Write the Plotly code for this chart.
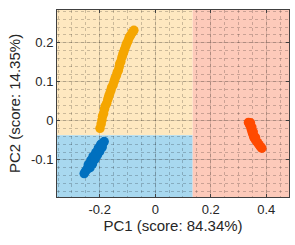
import plotly.graph_objects as go

# Data
orange_x = [-0.199, -0.195, -0.192, -0.190, -0.186, -0.183, -0.180, -0.175, -0.171, -0.168,
            -0.164, -0.160, -0.157, -0.152, -0.148, -0.145, -0.140, -0.137, -0.133, -0.130,
            -0.128, -0.124, -0.120, -0.117, -0.114, -0.110, -0.106, -0.103, -0.098, -0.094,
            -0.089, -0.083, -0.077]
orange_y = [-0.019, -0.008, 0.002, 0.012, 0.019, 0.030, 0.038, 0.045, 0.055, 0.062,
            0.070, 0.078, 0.086, 0.092, 0.101, 0.108, 0.116, 0.124, 0.129, 0.138,
            0.146, 0.152, 0.163, 0.170, 0.176, 0.184, 0.192, 0.198, 0.205, 0.213,
            0.219, 0.226, 0.232]

blue_x = [-0.184, -0.189, -0.194, -0.198, -0.203, -0.206, -0.211, -0.215, -0.219, -0.224,
          -0.228, -0.233, -0.237, -0.242, -0.246, -0.251, -0.256, -0.196, -0.205, -0.214,
          -0.224, -0.232, -0.241, -0.235, -0.226, -0.217, -0.208, -0.200, -0.191]
blue_y = [-0.053, -0.057, -0.061, -0.066, -0.071, -0.076, -0.081, -0.086, -0.092, -0.097,
          -0.102, -0.108, -0.113, -0.119, -0.124, -0.129, -0.135, -0.060, -0.070, -0.081,
          -0.091, -0.101, -0.112, -0.120, -0.110, -0.098, -0.087, -0.078, -0.067]

red_x = [0.336, 0.340, 0.343, 0.346, 0.349, 0.352, 0.355, 0.359, 0.364, 0.369,
         0.374, 0.379, 0.384, 0.343, 0.348, 0.353, 0.361]
red_y = [-0.004, -0.009, -0.014, -0.021, -0.028, -0.034, -0.041, -0.046, -0.051, -0.056,
         -0.061, -0.066, -0.070, -0.005, -0.016, -0.028, -0.042]

# Decision regions
x_range = [-0.354, 0.482]
y_range = [-0.195, 0.284]
x_split = 0.135
y_split = -0.037

x_ticks = [-0.2, 0, 0.2, 0.4]
x_tick_text = ["-0.2", "0", "0.2", "0.4"]
y_ticks = [-0.1, 0, 0.1, 0.2]
y_tick_text = ["-0.1", "0", "0.1", "0.2"]

x_title = "PC1 (score: 84.34%)"
y_title = "PC2 (score: 14.35%)"

fig = go.Figure()

regions = [
    (x_range[0], x_split, y_split, y_range[1], "#FEE8C0"),
    (x_range[0], x_split, y_range[0], y_split, "#A8D8EF"),
    (x_split, x_range[1], y_range[0], y_range[1], "#FDCABA"),
]
for x0, x1, y0, y1, c in regions:
    fig.add_shape(type="rect", x0=x0, x1=x1, y0=y0, y1=y1, xref="x", yref="y",
                  fillcolor=c, line=dict(width=0), layer="below")

for xs, ys, col in [(orange_x, orange_y, "#F5A600"),
                    (blue_x, blue_y, "#0070BF"),
                    (red_x, red_y, "#FF4A00")]:
    fig.add_trace(go.Scatter(x=xs, y=ys, mode="markers",
                             marker=dict(size=9.5, color=col, line=dict(width=0)),
                             showlegend=False, hoverinfo="skip"))

axis_common = dict(
    showline=True, linecolor="#404040", linewidth=1, mirror="ticks",
    ticks="inside", ticklen=3, tickcolor="#404040",
    showgrid=True, gridcolor="rgba(0,0,0,0.13)", gridwidth=1,
    zeroline=False, automargin=False,
    tickfont=dict(family="Liberation Sans, Arial", size=13, color="#262626"),
)

fig.update_xaxes(range=x_range, tickvals=x_ticks, ticktext=x_tick_text,
                 title=dict(text=x_title, font=dict(family="Liberation Sans, Arial", size=15, color="#262626"), standoff=4),
                 minor=dict(dtick=0.05, tick0=0, showgrid=True, griddash="dot",
                            gridcolor="rgba(0,0,0,0.2)", gridwidth=1, ticks=""),
                 **axis_common)
fig.update_yaxes(range=y_range, tickvals=y_ticks, ticktext=y_tick_text,
                 title=dict(text=y_title, font=dict(family="Liberation Sans, Arial", size=15, color="#262626"), standoff=6),
                 minor=dict(dtick=0.02, tick0=0, showgrid=True, griddash="dot",
                            gridcolor="rgba(0,0,0,0.2)", gridwidth=1, ticks=""),
                 **axis_common)

fig.update_layout(
    width=295, height=245,
    margin=dict(l=57, r=6, t=10, b=47.5, pad=0),
    paper_bgcolor="white", plot_bgcolor="white",
)

fig.write_html("out.html", config={"displayModeBar": False, "staticPlot": True},
               post_script="document.body.style.margin='0';")
